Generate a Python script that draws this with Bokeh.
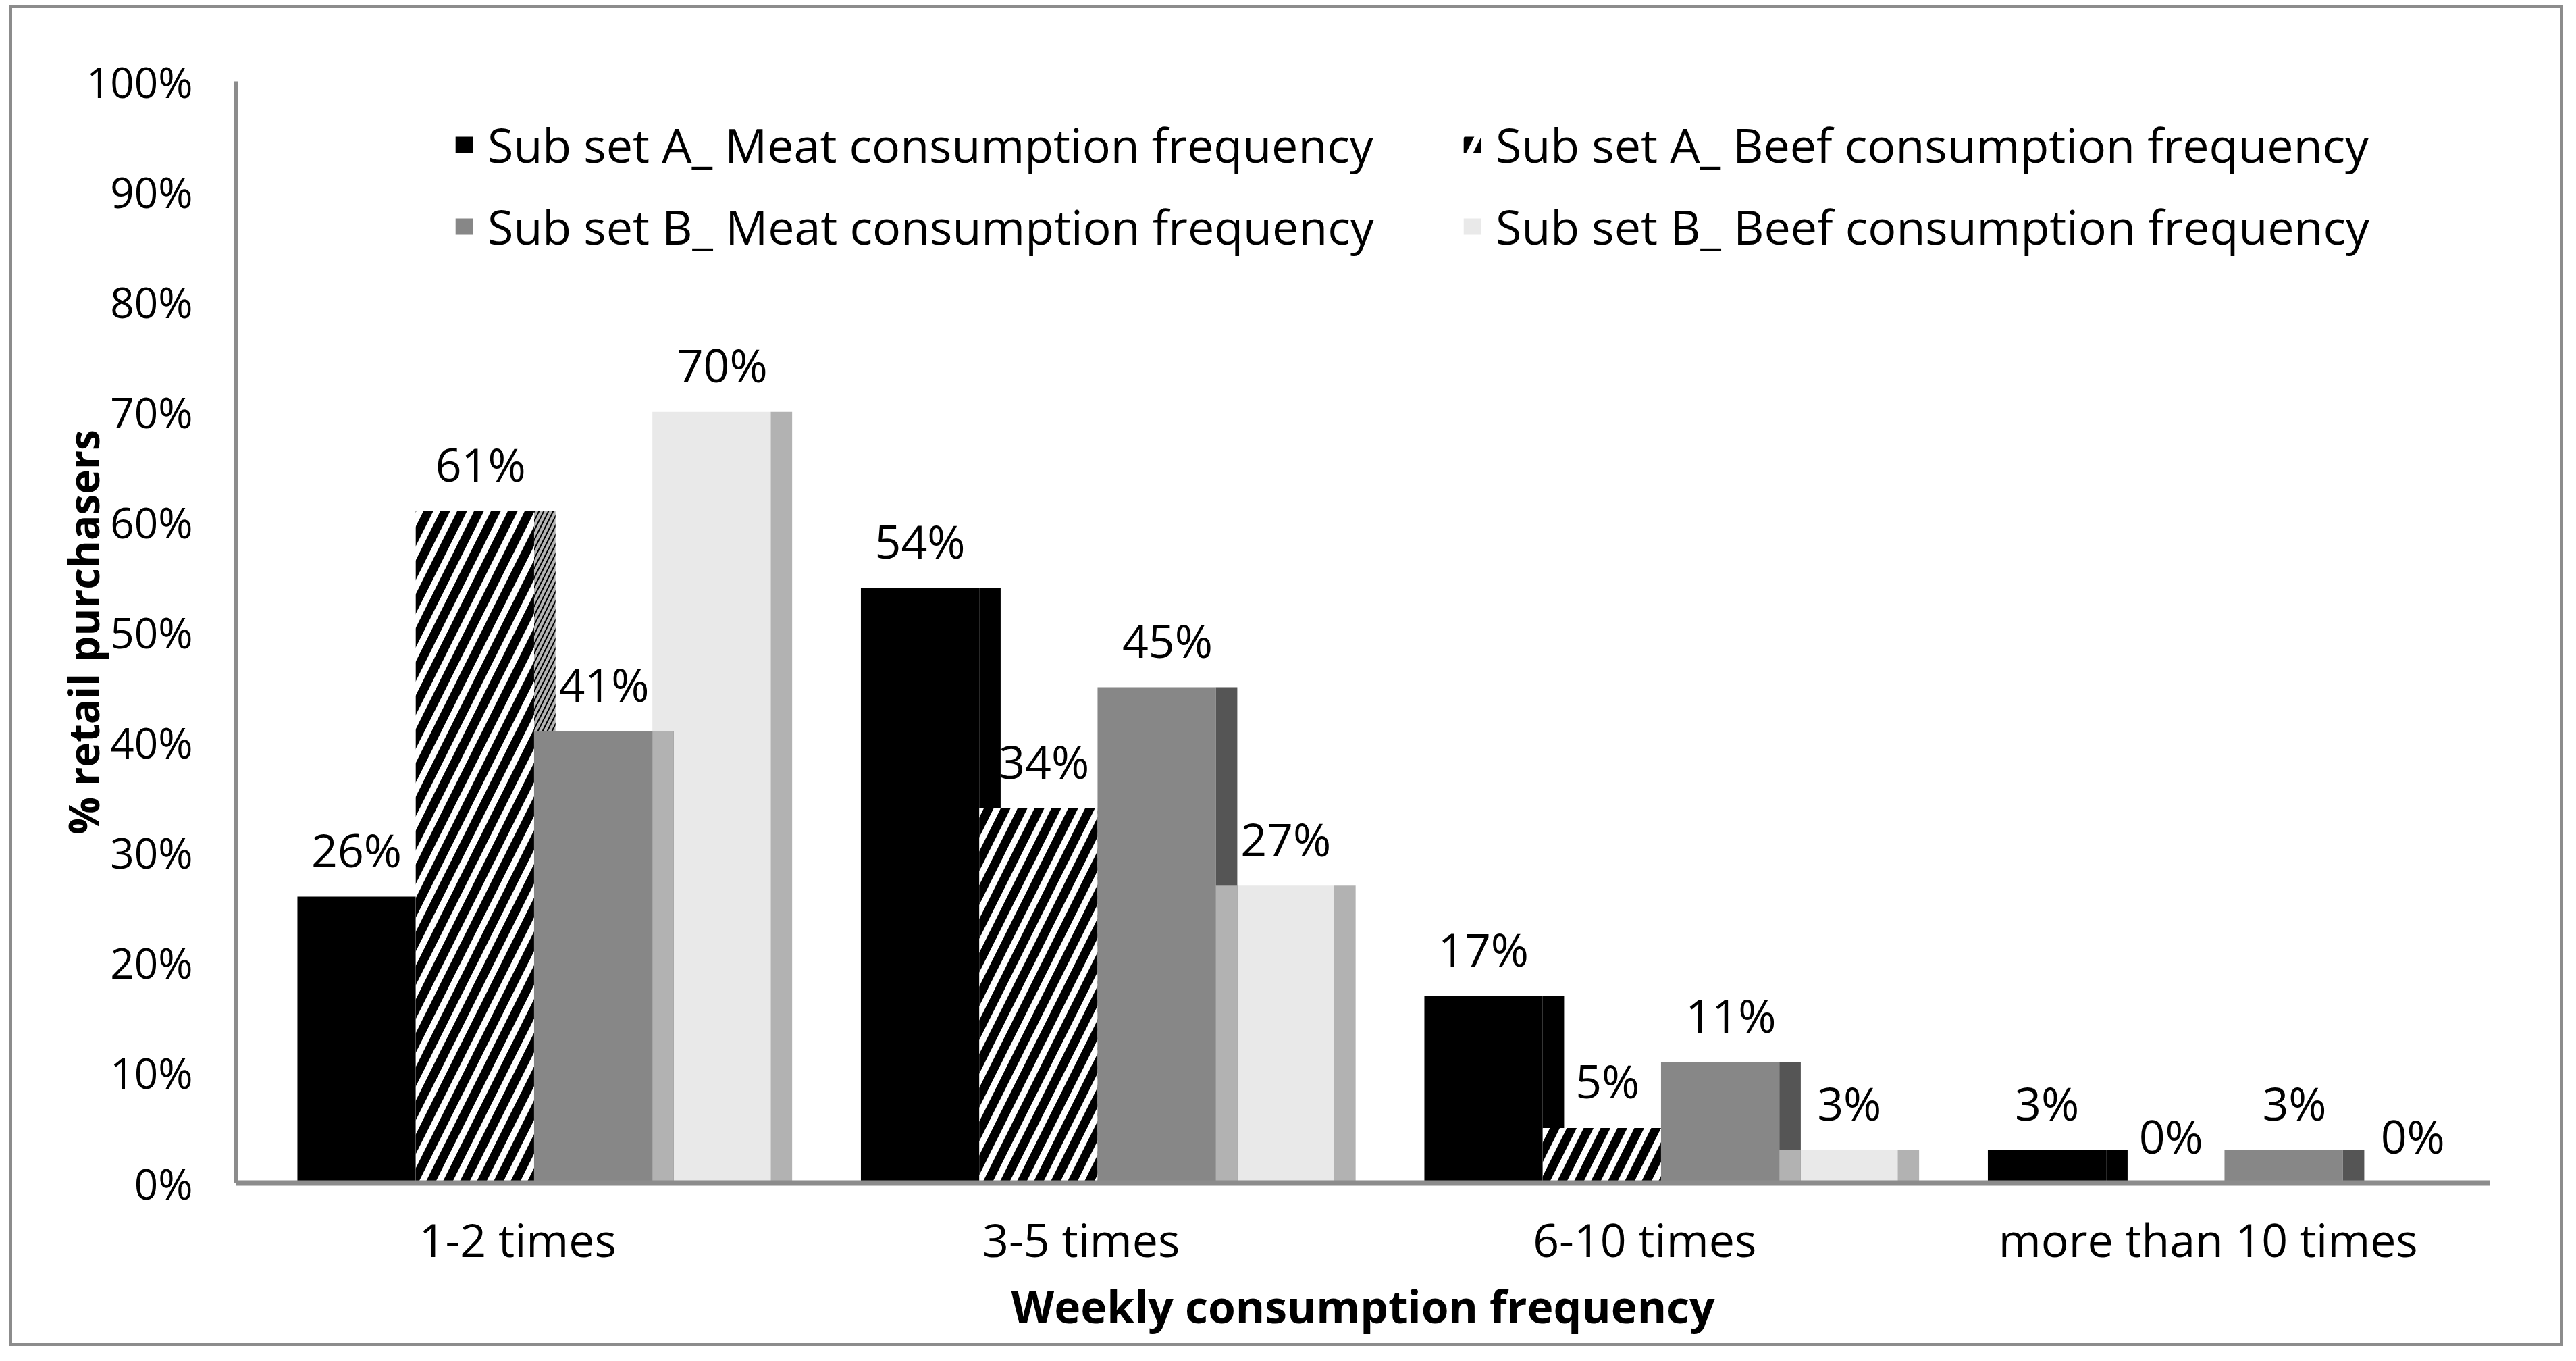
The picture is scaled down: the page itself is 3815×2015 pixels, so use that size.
import numpy as np
from bokeh.plotting import figure
from bokeh.models import (ColumnDataSource, FactorRange, Range1d, Legend, LegendItem,
                          FixedTicker)
from bokeh.transform import dodge
from bokeh.core.properties import value
from bokeh.embed import file_html
from bokeh.resources import INLINE

# ---------------- data ----------------
categories = ["1-2 times", "3-5 times", "6-10 times", "more than 10 times"]
a_meat = [26, 54, 17, 3]
a_beef = [61, 34, 5, 0]
b_meat = [41, 45, 11, 3]
b_beef = [70, 27, 3, 0]
series_names = [
    "Sub set A_ Meat consumption frequency",
    "Sub set A_ Beef consumption frequency",
    "Sub set B_ Meat consumption frequency",
    "Sub set B_ Beef consumption frequency",
]
y_ticks = [0, 10, 20, 30, 40, 50, 60, 70, 80, 90, 100]
y_tick_labels = [f"{t}%" for t in y_ticks]
x_title = "Weekly consumption frequency"
y_title = "% retail purchasers"

# ---------------- style / layout ----------------
FONT = "Open Sans"
FS = "68px"
BW = 0.21          # bar width (category units)
SW = 0.038         # side-face strip width
OFF = [-0.286, -0.076, 0.134, 0.344]

src = ColumnDataSource(dict(
    cat=categories,
    a_meat=a_meat, a_beef=a_beef, b_meat=b_meat, b_beef=b_beef,
    b_under=[int(v) for v in np.minimum(b_meat, b_beef)],
    a_meat_lbl=[f"{v}%" for v in a_meat],
    a_beef_lbl=[f"{v}%" for v in a_beef],
    b_meat_lbl=[f"{v}%" for v in b_meat],
    b_beef_lbl=[f"{v}%" for v in b_beef],
))

p = figure(
    x_range=FactorRange(factors=categories, range_padding=0),
    y_range=Range1d(0, 100),
    width=3783, height=1986,
    output_backend="svg", toolbar_location=None,
    min_border_left=331, min_border_right=114, min_border_top=108, min_border_bottom=247,
    background_fill_color="white", border_fill_color="white",
    outline_line_color=None,
    styles={"border": "5px solid #8c8c8c", "margin-left": "13px", "margin-top": "7px"},
)


def dx(o):
    return dodge("cat", o, range=p.x_range)


strip = BW / 2 + SW / 2

# A meat (black) with side face
p.vbar(x=dx(OFF[0] + strip), top="a_meat", width=SW, source=src,
       fill_color="black", line_color=None)
r_a_meat = p.vbar(x=dx(OFF[0]), top="a_meat", width=BW, source=src,
                  fill_color="black", line_color=None)

# A beef (hatched) with grey hatched side face
p.vbar(x=dx(OFF[1] + strip), top="a_beef", width=SW, source=src,
       fill_color="#b4b4b4", line_color=None,
       hatch_pattern="/", hatch_color="black", hatch_scale=14, hatch_weight=2)
r_a_beef = p.vbar(x=dx(OFF[1]), top="a_beef", width=BW, source=src,
                  fill_color="white", line_color=None,
                  hatch_pattern="/", hatch_color="black", hatch_scale=50, hatch_weight=13)

# B beef (light) with side face
r_b_beef = p.vbar(x=dx(OFF[3]), top="b_beef", width=BW, source=src,
                  fill_color="#e9e9e9", line_color=None)
p.vbar(x=dx(OFF[3] + strip), top="b_beef", width=SW, source=src,
       fill_color="#b2b2b2", line_color=None)

# B meat (grey) with dark side face, lightened where the light bar overlaps
r_b_meat = p.vbar(x=dx(OFF[2]), top="b_meat", width=BW, source=src,
                  fill_color="#878787", line_color=None)
p.vbar(x=dx(OFF[2] + strip), top="b_meat", width=SW, source=src,
       fill_color="#555555", line_color=None)
p.vbar(x=dx(OFF[2] + strip), top="b_under", width=SW, source=src,
       fill_color="#b2b2b2", line_color=None)

# value labels
lab_kw = dict(source=src, text_align="center", text_baseline="alphabetic", y_offset=-70,
              text_font=value(FONT), text_font_size=FS, text_color="black")
p.text(x=dx(OFF[0]), y="a_meat", text="a_meat_lbl", **lab_kw)
p.text(x=dx(OFF[1] + 0.01), y="a_beef", text="a_beef_lbl", **lab_kw)
p.text(x=dx(OFF[2] + SW / 2), y="b_meat", text="b_meat_lbl", **lab_kw)
p.text(x=dx(OFF[3] + SW / 2), y="b_beef", text="b_beef_lbl", **lab_kw)

# axes
p.xgrid.grid_line_color = None
p.ygrid.grid_line_color = None

xa = p.xaxis[0]
xa.axis_line_color = "#8c8c8c"
xa.axis_line_width = 8
xa.major_tick_line_color = None
xa.minor_tick_line_color = None
xa.major_label_text_font = FONT
xa.major_label_text_font_size = FS
xa.major_label_text_color = "black"
xa.major_label_standoff = 30
xa.axis_label = x_title
xa.axis_label_text_font = FONT
xa.axis_label_text_font_size = "66px"
xa.axis_label_text_font_style = "bold"
xa.axis_label_text_color = "black"
xa.axis_label_standoff = 4

ya = p.yaxis[0]
ya.ticker = FixedTicker(ticks=y_ticks)
ya.major_label_overrides = {t: s for t, s in zip(y_ticks, y_tick_labels)}
ya.axis_line_color = "#8c8c8c"
ya.axis_line_width = 5
ya.major_tick_line_color = None
ya.minor_tick_line_color = None
ya.major_label_text_font = FONT
ya.major_label_text_font_size = "62px"
ya.major_label_text_color = "black"
ya.major_label_standoff = 58
ya.axis_label = y_title
ya.axis_label_text_font = FONT
ya.axis_label_text_font_size = "62px"
ya.axis_label_text_font_style = "bold"
ya.axis_label_text_color = "black"
ya.axis_label_standoff = -40

# legends (two columns)
leg_kw = dict(orientation="vertical", label_text_font=FONT, label_text_font_size="70px",
              label_text_color="black", glyph_width=32, glyph_height=30,
              label_standoff=19, spacing=25, padding=0, margin=0, label_height=80,
              border_line_color=None, background_fill_alpha=0)
leg1 = Legend(items=[LegendItem(label=series_names[0], renderers=[r_a_meat]),
                     LegendItem(label=series_names[2], renderers=[r_b_meat])],
              location=(322, 1368), **leg_kw)
leg2 = Legend(items=[LegendItem(label=series_names[1], renderers=[r_a_beef]),
                     LegendItem(label=series_names[3], renderers=[r_b_beef])],
              location=(1815, 1368), **leg_kw)
p.add_layout(leg1)
p.add_layout(leg2)

open("out.html", "w").write(file_html(p, INLINE))
